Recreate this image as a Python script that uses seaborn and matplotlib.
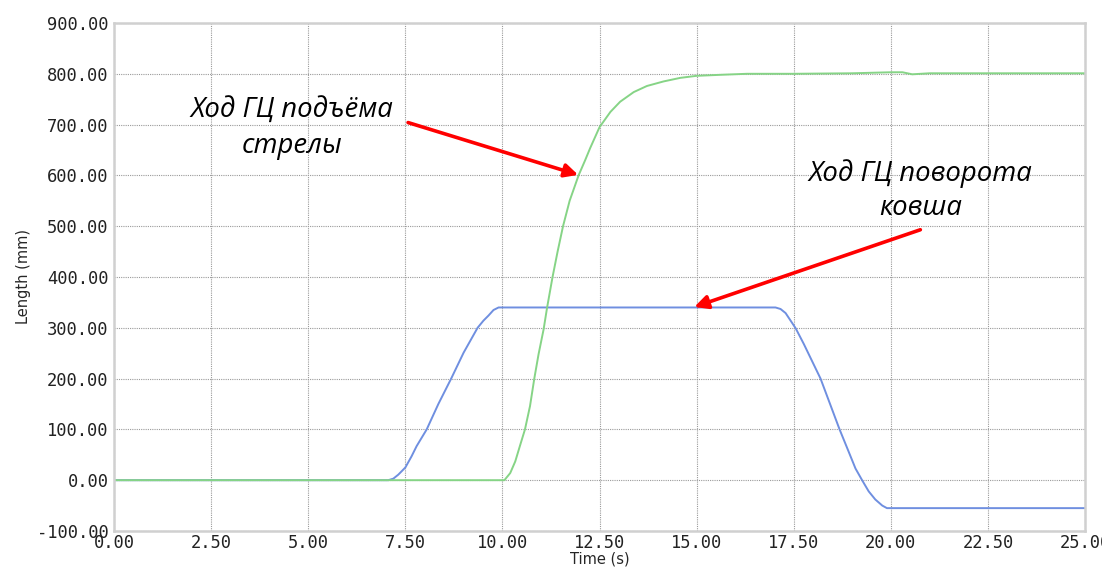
import matplotlib
matplotlib.use("Agg")
import matplotlib.pyplot as plt
import seaborn as sns
from matplotlib.ticker import FormatStrFormatter

# Boom cylinder stroke (green)
boom_t = [0, 10.0, 10.05, 10.2, 10.33, 10.46, 10.58, 10.71, 10.82, 10.93, 11.06, 11.15,
          11.29, 11.42, 11.56, 11.73, 11.96, 12.13, 12.26, 12.5, 12.78, 13.03, 13.38,
          13.72, 14.15, 14.58, 15.0, 15.61, 16.3, 17.5, 19.0, 20.0, 20.3, 20.55, 21.0, 25.0]
boom_len = [0, 0, 0, 14, 37, 70, 100, 146, 200, 248, 297, 340,
            400, 450, 500, 550, 600, 630, 654, 695, 725, 745, 764,
            776, 785, 792, 796, 798, 800, 800, 801, 803, 803, 799, 801, 801]

# Bucket cylinder stroke (blue)
bucket_t = [0, 7.06, 7.19, 7.32, 7.5, 7.66, 7.79, 8.05, 8.35, 8.68, 9.0, 9.36, 9.51,
            9.64, 9.77, 9.9, 17.03, 17.16, 17.29, 17.42, 17.55, 17.76, 18.19, 18.68,
            18.92, 19.09, 19.26, 19.43, 19.6, 19.78, 19.9, 25.0]
bucket_len = [0, 0, 3, 11, 25, 47, 67, 100, 150, 200, 251, 300, 314,
              324, 335, 340, 340, 337, 329, 314, 299, 268, 200, 100,
              55, 23, 0, -22, -38, -50, -55, -55]

x_ticks = [0, 2.5, 5, 7.5, 10, 12.5, 15, 17.5, 20, 22.5, 25]
y_ticks = [-100, 0, 100, 200, 300, 400, 500, 600, 700, 800, 900]

label_boom = "Ход ГЦ подъёма\nстрелы"
label_bucket = "Ход ГЦ поворота\nковша"

sns.set_style("white")
plt.rcParams['font.family'] = ['DejaVu Sans']

fig = plt.figure(figsize=(11.02, 5.72), dpi=100)
ax = fig.add_axes([0.1035, 0.0717, 0.8811, 0.8881])

blue = "#6f8fe0"
green = "#86d486"

sns.lineplot(x=bucket_t, y=bucket_len, ax=ax, color=blue, lw=1.4, estimator=None, sort=False)
sns.lineplot(x=boom_t, y=boom_len, ax=ax, color=green, lw=1.4, estimator=None, sort=False)

ax.set_xlim(0, 25)
ax.set_ylim(-100, 900)
ax.set_xticks(x_ticks)
ax.set_yticks(y_ticks)
ax.xaxis.set_major_formatter(FormatStrFormatter('%.2f'))
ax.yaxis.set_major_formatter(FormatStrFormatter('%.2f'))
ax.grid(True, color="#9a9a9a", linestyle=(0, (1, 1)), linewidth=0.8)
ax.set_axisbelow(True)
for s in ax.spines.values():
    s.set_color("#d0d0d0")
    s.set_linewidth(1.8)
ax.tick_params(axis='both', length=0, pad=4, labelsize=12.3, labelcolor="#222222")
for lab in ax.get_xticklabels() + ax.get_yticklabels():
    lab.set_fontfamily('DejaVu Sans Mono')
ax.tick_params(axis='x', pad=2)
ax.set_xlabel("Time (s)", fontsize=10.5, labelpad=0)
ax.set_ylabel("Length (mm)", fontsize=10.5, labelpad=4)

ann_font = dict(fontfamily=['Open Sans', 'DejaVu Sans'], fontstyle='italic', fontsize=19.8,
                color='black', ha='center', va='center', linespacing=1.32)
ax.text(4.59, 692, label_boom, **ann_font)
ax.text(20.76, 570, label_bucket, **ann_font)

arrow = dict(arrowstyle='-|>', color='red', lw=2.6, mutation_scale=20, shrinkA=0, shrinkB=0)
ax.annotate("", xy=(11.95, 601), xytext=(7.57, 704), arrowprops=arrow)
ax.annotate("", xy=(14.94, 341), xytext=(20.76, 493), arrowprops=arrow)

fig.savefig("out.png", dpi=100)
